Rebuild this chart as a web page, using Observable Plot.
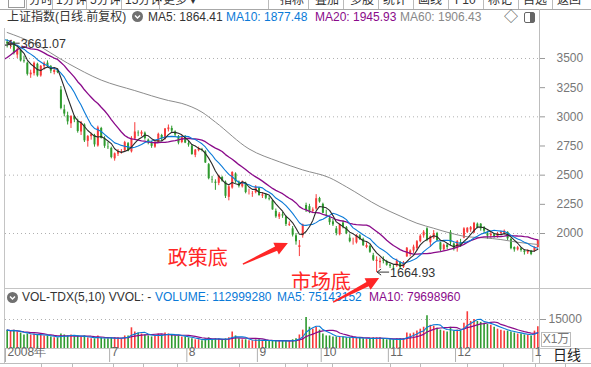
<!DOCTYPE html>
<html><head><meta charset="utf-8">
<script src="https://cdn.jsdelivr.net/npm/d3@7"></script>
<script src="https://cdn.jsdelivr.net/npm/@observablehq/plot@0.6"></script>
<style>
html,body{margin:0;padding:0;background:#fff}
#page{position:relative;width:591px;height:367px;overflow:hidden;background:#fff;font-family:"Liberation Sans","Noto Sans CJK SC",sans-serif;font-size:12px;color:#333}
.a{position:absolute;white-space:nowrap;line-height:14px}
</style></head><body><div id="page"></div>
<script>
// ---------------- DATA ----------------
const opens = [3640,3610,3640,3530,3570,3480,3460,3360,3370,3450,3350,
 3430,3460,3430,3380,3395,3230,3060,3010,2940,3000,2960,2870,2930,2790,2830,2840,2750,2900,2810,2740,
 2730,2640,2680,2700,2710,2770,2700,2810,2860,2850,2860,2800,2775,2740,2780,2840,2810,2890,2900,2870,2830,2780,2830,
 2770,2750,2670,2710,2720,2700,2590,2460,2440,2430,2480,2440,2310,2390,2510,2440,2400,2430,2350,2340,2350,
 2390,2320,2330,2300,2280,2190,2140,2160,2140,2070,2040,1980,1880,1980,2240,2230,2190,2210,2300,
 2250,2160,2130,2100,2040,1990,2090,2050,1960,1930,1920,1980,1950,1880,1890,1810,1760,1750,1770,1760,
 1730,1710,1720,1750,1710,1800,1820,1850,1870,1930,1980,2040,1920,1960,2000,1920,1860,1900,2010,1910,
 1870,1920,1960,2010,2030,2005,2080,2080,2050,2000,1980,1990,1970,2000,2000,2010,1950,1880,1860,1870,1850,1835,1850,
 1850,1880];
const highs = [3661.07,3655,3645,3590,3575,3520,3470,3400,3470,3460,3440,
 3470,3480,3440,3410,3410,3260,3100,3040,3010,3010,2980,2960,2940,2840,2860,2850,2920,2910,2830,2780,
 2740,2690,2720,2720,2790,2780,2830,2950,2880,2880,2870,2810,2790,2790,2860,2850,2900,2930,2920,2880,2840,2840,2840,
 2790,2760,2720,2740,2730,2710,2600,2490,2460,2500,2490,2450,2410,2530,2520,2450,2450,2440,2380,2360,2410,
 2390,2350,2340,2320,2290,2210,2180,2180,2150,2100,2060,2000,1940,2080,2260,2250,2220,2333,2310,
 2260,2200,2140,2120,2060,2080,2110,2060,1990,1960,1990,1990,1960,1920,1900,1830,1800,1790,1800,1770,
 1740,1730,1780,1760,1760,1880,1860,1900,1940,1990,2025,2050,1980,2025,2010,1925,1910,1910,2025,1920,
 1940,1950,2050,2050,2060,2095,2090,2085,2060,2020,2010,2000,2010,2020,2030,2015,1960,1885,1890,1880,1860,1860,1855,
 1885,1945];
const lows = [3590,3580,3530,3500,3470,3460,3350,3330,3350,3340,3340,
 3400,3420,3370,3360,3370,3060,3000,2930,2900,2950,2860,2840,2780,2740,2800,2740,2740,2810,2730,2720,
 2640,2620,2660,2680,2700,2700,2690,2800,2830,2830,2800,2760,2730,2730,2780,2790,2800,2870,2860,2830,2760,2770,2770,
 2740,2670,2650,2700,2700,2600,2460,2430,2370,2410,2440,2300,2280,2380,2430,2390,2390,2340,2330,2310,2340,
 2320,2300,2290,2280,2200,2130,2120,2130,2060,2060,1970,1900,1802.33,1960,2180,2170,2170,2200,2260,
 2170,2140,2070,2060,1980,1980,2040,1990,1920,1900,1910,1940,1890,1870,1830,1760,1664.93,1700,1740,1720,
 1700,1680,1710,1700,1700,1795,1800,1830,1850,1920,1960,1930,1880,1950,1930,1840,1850,1860,1895,1850,
 1840,1880,1955,2000,2010,2000,2040,2020,2000,1950,1960,1960,1960,1990,1990,1940,1860,1840,1850,1840,1815,1820,1810,
 1840,1875];
const closes = [3624,3654,3544,3574,3479,3473,3364,3375,3459,3351,3433,
 3459,3433,3392,3398,3379,3072,3024,2957,3002,2974,2874,2942,2794,2831,2847,2760,2905,2814,2748,2736,
 2651,2683,2704,2703,2779,2705,2815,2870,2856,2867,2813,2780,2747,2775,2850,2812,2896,2905,2878,2844,2775,2827,2775,
 2758,2677,2714,2724,2718,2605,2470,2457,2430,2492,2450,2319,2400,2523,2443,2405,2443,2351,2350,2343,2397,
 2325,2331,2302,2295,2202,2143,2165,2150,2078,2079,1986,1929,1895,2075,2200,2190,2202,2298,2270,
 2173,2157,2093,2074,2000,2073,2053,1999,1930,1930,1984,1951,1895,1897,1839,1771,1771,1762,1763,1728,
 1719,1706,1764,1707,1747,1874,1850,1883,1930,1977,2011,1940,1973,2000,1940,1860,1900,1880,1920,1871,
 1930,1900,2040,2045,2050,2087,2050,2040,2020,1978,1995,1970,2000,2010,2020,1954,1870,1860,1878,1855,1838,1850,1821,
 1881,1937];
const volumes = [9500,9000,9500,8500,8000,7000,7500,7000,7500,7000,7000,
 6500,6500,6000,5500,5500,7500,7000,6500,7000,6000,6500,6000,6500,5500,5000,5000,6500,5500,5000,5000,
 5500,5500,5500,5000,6500,6500,10700,8500,8000,7500,7000,6500,6000,6500,7500,7000,8000,7500,7000,6500,6500,6000,6000,
 5500,5000,4500,4500,4000,5000,5500,4500,5000,5000,4500,5000,5500,8500,6500,5000,4500,4500,4000,4000,4500,
 4500,4000,4000,3800,4000,4000,4000,3800,4000,3800,4500,5000,7000,9500,16000,11000,10000,11000,9500,
 7500,6500,6500,6000,6000,6000,6000,5500,5500,5500,5500,5500,5000,5000,5000,5500,5500,5500,5000,4500,
 4500,4500,5000,5000,5000,8000,7500,8000,9000,10000,11000,17000,12000,11500,10500,9500,9000,8500,11000,9000,
 9500,9000,13000,19000,14000,15000,14000,13500,13000,12500,12000,11000,10000,9500,9000,9000,8500,8000,7500,7500,7000,7000,6500,
 9000,11300];
// closes of the 20 sessions before the first visible bar (feed the moving averages)
const priorCloses = [3291,3222,3094,3116,3147,3278,3583,3557,3478,3434,3693,3761,3786,3656,3672,3613,3607,3560,3657,3630];
// MA60
const ma60Idx = [0,8,18,28,38,48,52,58,62,72,81,88,96,101,111,117,122,127,132,137,142,147,152,158];
const ma60Val = [3723,3630,3460,3315,3225,3140,3115,3040,2955,2725,2615,2545,2478,2400,2230,2150,2088,2045,2003,1972,1963,1948,1925,1906];
const monthStartIdx = [0,31,54,75,94,114,134,157];
const monthLabels = ["2008年","7","8","9","10","11","12","1"];
const priceTicks = [2000,2250,2500,2750,3000,3250,3500];
const gridPrices = [2000,2500,3000,3500];
const volTicks = [15000];
const headerTexts = {title:"上证指数(日线.前复权)", ma5:"MA5: 1864.41", ma10:"MA10: 1877.48", ma20:"MA20: 1945.93", ma60:"MA60: 1906.43",
  vol:"VOL-TDX(5,10) VVOL: -", volume:"VOLUME: 112999280", vma5:"MA5: 75143152", vma10:"MA10: 79698960"};
const annotations = [{label:"政策底", i:87}, {label:"市场底", i:110}];
const toolbarLeft = ["分时","1分钟","5分钟","15分钟","更多 ▾"];
const toolbarRight = ["指标","叠加","多股","统计","画线","F10","标记","自选","返回"];

// ---------------- STYLE ----------------
const RED="#f83a3a", GREEN="#2e9a2e", BLACK="#2a2a2a", BLUE="#0a7ad8", PURPLE="#8a0a8a", GREY60="#8c8c8c", LINE="#c4c4c4", ANN="#ff2626";
const page=document.getElementById("page");
function el(css,text,cls){const e=document.createElement("div");e.className=cls||"a";e.style.cssText=css;if(text!=null)e.textContent=text;page.appendChild(e);return e;}
function hline(x,y,w,c){el(`position:absolute;left:${x}px;top:${y}px;width:${w}px;height:1px;background:${c||LINE}`);}
function vline(x,y,h,c){el(`position:absolute;left:${x}px;top:${y}px;width:1px;height:${h}px;background:${c||LINE}`);}

// toolbar (cut off at the top)
el("position:absolute;left:8px;top:-3px;width:15px;height:9px;border:1px solid #999");
const tlX=[29,56,90,125,163], tlSep=[26,52,86,121,159];
toolbarLeft.forEach((t,k)=>el(`left:${tlX[k]}px;top:-7px;font-size:12px;color:#333`,t));
tlSep.forEach(x=>vline(x,0,9,"#bbb"));
const trX=[280,315,350,383,418,455,488,523,557], trSep=[268,308,343,378,413,448,483,518,552];
toolbarRight.forEach((t,k)=>el(`left:${trX[k]}px;top:-7px;font-size:12px;color:#333`,t));
trSep.forEach(x=>vline(x,0,9,"#bbb"));
hline(0,9,591,"#a8a8a8");

// title row
el("left:7px;top:10px;color:#333",headerTexts.title);
el("left:148px;top:10px;color:#333",headerTexts.ma5);
el(`left:226px;top:10px;color:${BLUE}`,headerTexts.ma10);
el(`left:315px;top:10px;color:${PURPLE}`,headerTexts.ma20);
el(`left:400px;top:10px;color:#888`,headerTexts.ma60);
function circleIcon(x,y){const d=el(`position:absolute;left:${x}px;top:${y}px;width:11px;height:11px`);d.innerHTML='<svg width="11" height="11"><circle cx="5.5" cy="5.5" r="5.5" fill="#707070"/><path d="M3 4.5 L5.5 7 L8 4.5" stroke="#fff" stroke-width="1.4" fill="none"/></svg>';}
circleIcon(132,11);
el("left:504px;top:9px;font-size:14px;color:#555","◇");
el("position:absolute;left:524px;top:12px;width:9px;height:9px;border:1px solid #666;border-radius:2px;background:linear-gradient(90deg,#fff 55%,#666 55%)");

// frame lines
vline(4,28,335);
vline(539,9,354,"#bdbdbd");
hline(4,288,587);
hline(4,348,587);
hline(0,363,591,"#bdbdbd");

// ---------------- MAIN CHART ----------------
const bars = closes.map((c,i)=>({i,open:opens[i],high:highs[i],low:lows[i],close:c,vol:volumes[i]}));
const upBars = bars.filter(d=>d.close>=d.open), downBars = bars.filter(d=>d.close<d.open);
const closeRows = priorCloses.map((c,k)=>({i:k-priorCloses.length,close:c})).concat(bars.map(d=>({i:d.i,close:d.close})));
const ma60Rows = ma60Idx.map((i,k)=>({i,v:ma60Val[k]}));
const xDomain=[-0.5,closes.length-0.5];
const baseStyle={background:"transparent",fontFamily:"Liberation Sans, sans-serif",fontSize:"12px",color:"#777",overflow:"visible"};
const ma=(k,color,w)=>Plot.lineY(closeRows,Plot.windowY({k,anchor:"end"},{x:"i",y:"close",stroke:color,strokeWidth:w,clip:true}));
const main = Plot.plot({
  width:591,height:260,marginTop:0,marginBottom:0,marginLeft:5,marginRight:52,
  x:{domain:xDomain,axis:null},
  y:{domain:[1528.6,3757.1],axis:null},
  style:baseStyle,
  marks:[
    Plot.ruleY(gridPrices,{stroke:"#b0b0b0",strokeDasharray:"1,3"}),
    Plot.axisY(priceTicks,{anchor:"right",tickSize:5,tickPadding:12,tickFormat:d=>String(d),stroke:"#999",fill:"#777",label:null,fontSize:12}),
    Plot.ruleX(upBars,{x:"i",y1:"low",y2:"high",stroke:RED,strokeWidth:1}),
    Plot.ruleX(upBars,{x:"i",y1:"open",y2:"close",stroke:RED,strokeWidth:2}),
    Plot.ruleX(downBars,{x:"i",y1:"low",y2:"high",stroke:GREEN,strokeWidth:1}),
    Plot.ruleX(downBars,{x:"i",y1:"open",y2:"close",stroke:GREEN,strokeWidth:2}),
    Plot.line(ma60Rows,{x:"i",y:"v",stroke:GREY60,strokeWidth:1,curve:"monotone-x",clip:true}),
    ma(20,PURPLE,1.3),
    ma(10,BLUE,1.1),
    ma(5,BLACK,1.1)
  ]
});
main.style.position="absolute";main.style.left="0px";main.style.top="28px";
page.appendChild(main);

// volume header
circleIcon(7,292);
el("left:22px;top:290px;color:#333",headerTexts.vol);
el(`left:155px;top:290px;color:${BLUE}`,headerTexts.volume);
el(`left:277px;top:290px;color:${BLUE}`,headerTexts.vma5);
el(`left:369px;top:290px;color:${PURPLE}`,headerTexts.vma10);

// ---------------- VOLUME CHART ----------------
const vUp=bars.filter(d=>d.close>=d.open), vDown=bars.filter(d=>d.close<d.open);
const months = monthStartIdx.map((i,k)=>({x:i-0.5,label:monthLabels[k]}));
const vol = Plot.plot({
  width:591,height:60,marginTop:0,marginBottom:15,marginLeft:5,marginRight:52,
  x:{domain:xDomain,axis:null},
  y:{domain:[0,23276],axis:null},
  style:baseStyle,
  marks:[
    Plot.ruleY(volTicks,{stroke:"#b0b0b0",strokeDasharray:"1,3"}),
    Plot.axisY(volTicks,{anchor:"right",tickSize:6,tickPadding:3,tickFormat:d=>String(d),stroke:"#999",fill:"#777",label:null,fontSize:12}),
    Plot.ruleX(vUp,{x:"i",y1:0,y2:"vol",stroke:RED,strokeWidth:1.6}),
    Plot.ruleX(vDown,{x:"i",y1:0,y2:"vol",stroke:GREEN,strokeWidth:1.6}),
    Plot.lineY(bars,Plot.windowY({k:10,anchor:"end"},{x:"i",y:"vol",stroke:PURPLE,strokeWidth:1.2})),
    Plot.lineY(bars,Plot.windowY({k:5,anchor:"end"},{x:"i",y:"vol",stroke:BLUE,strokeWidth:1.1})),
    Plot.axisX(months.map(d=>d.x),{anchor:"bottom",tickSize:14,tickFormat:()=>"",stroke:"#b0b0b0",label:null}),
    Plot.text(months,{x:"x",text:"label",frameAnchor:"bottom",dy:7,dx:2,textAnchor:"start",fill:"#666",fontSize:12})
  ]
});
vol.style.position="absolute";vol.style.left="0px";vol.style.top="303px";
page.appendChild(vol);

el("position:absolute;left:541px;top:332px;width:28px;height:13px;border:1px solid #bbb;font-size:12px;line-height:13px;color:#777;text-align:center","X1万");
el("left:553px;top:348px;font-size:14px;line-height:15px;color:#222","日线");
[41,72,113,143,177,239,285,307,332,390,420,467,503,535,565].forEach(x=>vline(x,363,4,"#bbb"));

// ---------------- ANNOTATIONS ----------------
const sx=main.scale("x"), sy=main.scale("y"), TOP=28;
const svg=d3.select(page).append("svg").attr("width",591).attr("height",367)
  .style("position","absolute").style("left","0px").style("top","0px").style("pointer-events","none");
function brushArrow(x1,y1,x2,y2){
  const dx=x2-x1,dy=y2-y1,L=Math.hypot(dx,dy),ux=dx/L,uy=dy/L,nx=-uy,ny=ux;
  const hl=13,sw0=0.7,sw1=2.4,hw=6.5,bx=x2-ux*hl,by=y2-uy*hl;
  const pts=[[x1+nx*sw0,y1+ny*sw0],[bx+nx*sw1,by+ny*sw1],[bx+nx*hw,by+ny*hw],[x2,y2],[bx-nx*hw,by-ny*hw],[bx-nx*sw1,by-ny*sw1],[x1-nx*sw0,y1-ny*sw0]];
  svg.append("polygon").attr("points",pts.map(p=>p.join(",")).join(" ")).attr("fill",ANN);
}
const annLayout=[{tx:-131,ty:0,a:[-56,8,-11,-13]},{tx:-85,ty:8.5,a:[-43,30,3,6]}];
annotations.forEach((a,k)=>{
  const ax=sx.apply(a.i), ay=TOP+sy.apply(lows[a.i]), L=annLayout[k];
  svg.append("text").attr("x",ax+L.tx).attr("y",ay+L.ty).attr("dominant-baseline","central")
    .attr("font-family","Noto Sans CJK SC").attr("font-size",20).attr("fill",ANN).text(a.label);
  brushArrow(ax+L.a[0],ay+L.a[1],ax+L.a[2],ay+L.a[3]);
});
function extremeLabel(i,price,dy){
  const px=sx.apply(i), py=TOP+sy.apply(price)+dy;
  svg.append("line").attr("x1",px+1).attr("y1",py).attr("x2",px+13).attr("y2",py).attr("stroke","#333");
  svg.append("path").attr("d",`M${px+5},${py-3} L${px+1},${py} L${px+5},${py+3}`).attr("stroke","#333").attr("fill","none");
  svg.append("text").attr("x",px+14).attr("y",py+1).attr("dominant-baseline","central")
    .attr("font-family","Liberation Sans").attr("font-size",12.5).attr("fill","#333").text(d3.format(".2f")(price));
}
const hiIdx=d3.maxIndex(highs), loIdx=d3.minIndex(lows);
extremeLabel(hiIdx,highs[hiIdx],4);
extremeLabel(loIdx,lows[loIdx],0);
</script></body></html>
